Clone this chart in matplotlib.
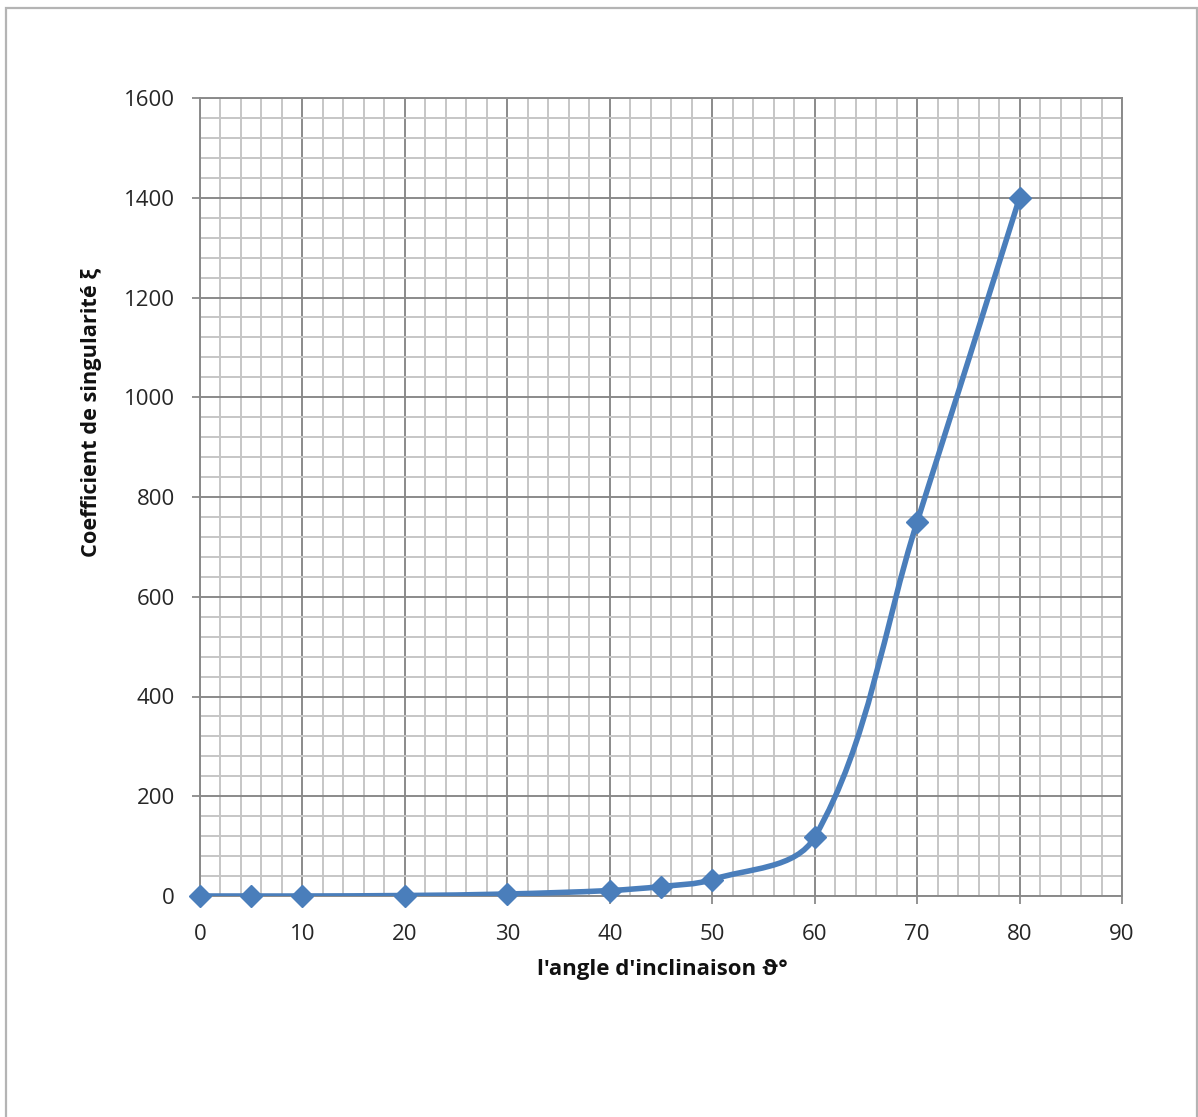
import numpy as np
import matplotlib
matplotlib.use("Agg")
import matplotlib.pyplot as plt
from matplotlib.path import Path
from matplotlib.patches import PathPatch, Rectangle
from matplotlib.ticker import MultipleLocator

# ---- data ----
angles = [0, 5, 10, 20, 30, 40, 45, 50, 60, 70, 80]
xi = [0, 0, 0, 1, 4, 11, 19, 33, 118, 750, 1400]
x_ticks = [0, 10, 20, 30, 40, 50, 60, 70, 80, 90]
y_ticks = [0, 200, 400, 600, 800, 1000, 1200, 1400, 1600]
x_label = "l'angle d'inclinaison ϑ°"
y_label = "Coefficient de singularité ξ"

W, H = 1198, 1117
fig = plt.figure(figsize=(W / 100, H / 100), dpi=100)
fams = ['Open Sans', 'DejaVu Sans']

# outer frame
fig.patches.append(Rectangle((6 / W, -0.05), (1197 - 6) / W, (H - 8) / H + 0.05,
                             transform=fig.transFigure, fill=False,
                             edgecolor='#b4b4b4', linewidth=1.6))

ax = fig.add_axes([200 / W, (H - 896) / H, 922 / W, 798 / H])
ax.set_xlim(x_ticks[0], x_ticks[-1])
ax.set_ylim(y_ticks[0], y_ticks[-1])
ax.set_xticks(x_ticks)
ax.set_yticks(y_ticks)
ax.xaxis.set_minor_locator(MultipleLocator(2))
ax.yaxis.set_minor_locator(MultipleLocator(40))
ax.grid(which='minor', color='#c6c6c6', linewidth=1.4, zorder=0)
ax.grid(which='major', color='#8a8a8a', linewidth=1.4, zorder=0)
ax.set_axisbelow(True)
for s in ax.spines.values():
    s.set_color('#8a8a8a')
    s.set_linewidth(1.4)
ax.tick_params(which='minor', length=0)
ax.tick_params(axis='x', which='major', length=6, width=1.3, color='#8a8a8a',
               pad=14, labelsize=16, labelcolor='#262626')
ax.tick_params(axis='y', which='major', length=6, width=1.3, color='#8a8a8a',
               pad=12, labelsize=16, labelcolor='#262626')
for lab in ax.get_xticklabels() + ax.get_yticklabels():
    lab.set_family(fams)

# Smoothed (Excel-like) curve through the points, built in display space:
# tangent from neighbours, control distance proportional to segment length
P = ax.transData.transform(np.column_stack([angles, xi]).astype(float))
n = len(P)
tang = []
for i in range(n):
    a = P[i - 1] if i > 0 else P[i]
    b = P[i + 1] if i < n - 1 else P[i]
    d = b - a
    tang.append(d / np.hypot(*d))
verts = [P[0]]
codes = [Path.MOVETO]
for i in range(n - 1):
    seg = np.hypot(*(P[i + 1] - P[i]))
    c1 = P[i] + tang[i] * seg / 3.0
    c2 = P[i + 1] - tang[i + 1] * seg / 3.0
    verts += [c1, c2, P[i + 1]]
    codes += [Path.CURVE4] * 3
verts = ax.transData.inverted().transform(np.array(verts))
ax.add_patch(PathPatch(Path(verts, codes), facecolor='none',
                       edgecolor='#4a7ebb', linewidth=4.0, zorder=3,
                       capstyle='round', joinstyle='round'))
ax.plot(angles, xi, linestyle='none', marker='D', markersize=11,
        color='#4a7ebb', markeredgecolor='#4a7ebb', zorder=4, clip_on=False)

fig.text(662 / W, 1 - 970 / H, x_label, ha='center', va='center',
         fontsize=16, fontweight='bold', family=fams, color='#111111')
fig.text(92 / W, 1 - 412 / H, y_label, ha='center', va='center', rotation=90,
         fontsize=15.7, fontweight='bold', family=fams, color='#111111')

fig.savefig('out.png', dpi=100)
